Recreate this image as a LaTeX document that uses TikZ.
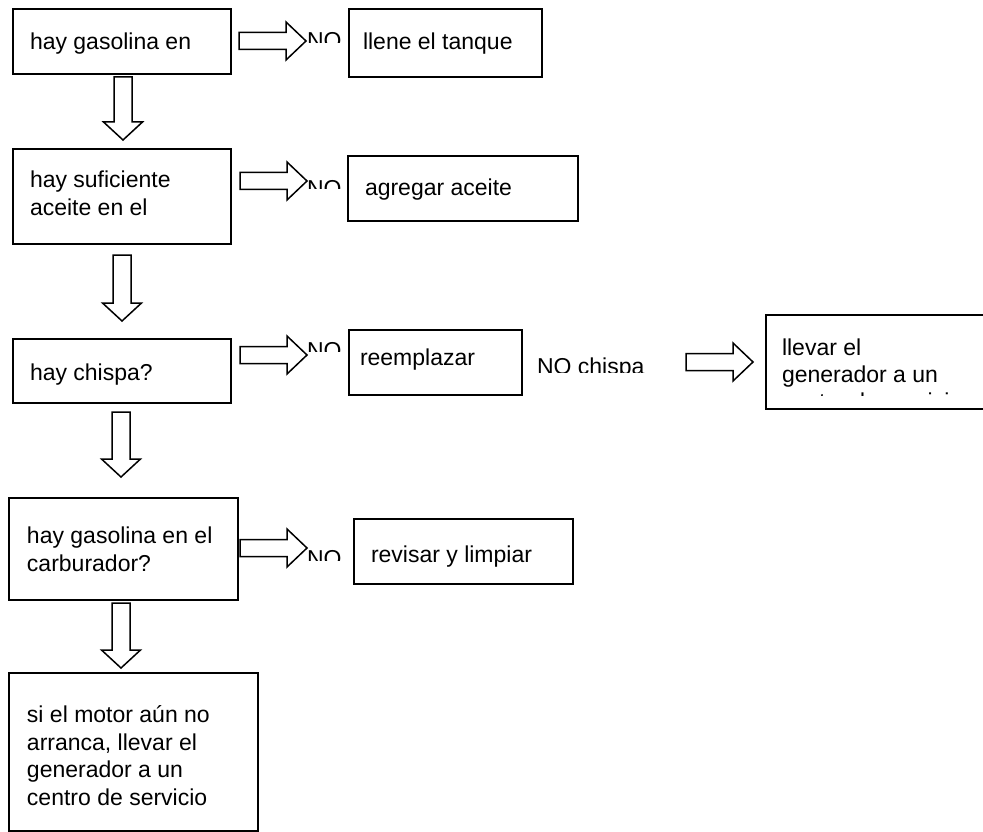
\documentclass[tikz,border=0pt]{standalone}
\usepackage{fontspec}
\setmainfont{Liberation Sans}
\begin{document}
\begin{tikzpicture}[x=1pt,y=-1pt,
  box/.style={draw=black, line width=1.8pt, rectangle, anchor=north west, inner sep=0pt},
  txt/.style={inner sep=0pt, outer sep=0pt, anchor=base west, font=\fontsize{23}{27.7}\selectfont},
  blk/.style={draw=black, line width=1.5pt, fill=white, line join=miter},
  pics/rarrow/.style={code={\draw[blk] (0,-8.5) -- (47,-8.5) -- (47,-19) -- (67,0) -- (47,19) -- (47,8.5) -- (0,8.5) -- cycle;}},
  pics/darrow/.style={code={\draw[blk] (-9,0) -- (-9,{#1-18}) -- (-19.5,{#1-18}) -- (0,#1) -- (19.5,{#1-18}) -- (9,{#1-18}) -- (9,0) -- cycle;}},
]
\useasboundingbox (0,0) rectangle (983,832);

% decision boxes (left column) and action boxes
\node[box, minimum width=218pt, minimum height=65pt]  (b1)  at (12,8) {};
\node[box, minimum width=193pt, minimum height=68pt]  (b1n) at (348,8) {};
\node[box, minimum width=218pt, minimum height=95pt]  (b2)  at (12,148) {};
\node[box, minimum width=230pt, minimum height=65pt]  (b2n) at (347,155) {};
\node[box, minimum width=218pt, minimum height=64pt]  (b3)  at (12,338) {};
\node[box, minimum width=173pt, minimum height=65pt]  (b3n) at (348,329) {};
\node[box, minimum width=230pt, minimum height=94pt]  (b3x) at (765,314) {};
\node[box, minimum width=229pt, minimum height=102pt] (b4)  at (8,497) {};
\node[box, minimum width=219pt, minimum height=65pt]  (b4n) at (353,518) {};
\node[box, minimum width=249pt, minimum height=158pt] (b5)  at (8,672) {};

% box texts
\node[txt] (t1)  at (30,50)  {hay gasolina en};
\node[txt] (t1n) at (363,50) {llene el tanque};
\node[txt] (t2a) at (30,187) {hay suficiente};
\node[txt] (t2b) at (30,215) {aceite en el};
\node[txt] (t2n) at (365,195) {agregar aceite};
\node[txt] (t3)  at (30,380) {hay chispa?};
\node[txt] (t3n) at (360,365) {reemplazar};
\node[txt] (t3a) at (782,355) {llevar el};
\node[txt] (t3b) at (782,382) {generador a un};
\begin{scope}
  \clip (770,385) rectangle (983,395);
  \node[txt] (t3c) at (782,409.5) {centro de servicio};
\end{scope}
\node[txt] (t4a) at (27,543) {hay gasolina en el};
\node[txt] (t4b) at (27,571) {carburador?};
\node[txt] (t4n) at (371,562) {revisar y limpiar};
\node[txt] (t5a) at (27,722) {si el motor aún no};
\node[txt] (t5b) at (27,750) {arranca, llevar el};
\node[txt] (t5c) at (27,777) {generador a un};
\node[txt] (t5d) at (27,805) {centro de servicio};

% labels cut off by their frames
\begin{scope}
  \clip (300,20) rectangle (346,43);
  \node[txt] (no1) at (307,48.5) {NO};
\end{scope}
\begin{scope}
  \clip (300,170) rectangle (346,189);
  \node[txt] (no2) at (307,196.5) {NO};
\end{scope}
\begin{scope}
  \clip (300,330) rectangle (346,351);
  \node[txt] (no3) at (307,358.5) {NO};
\end{scope}
\begin{scope}
  \clip (300,540) rectangle (350,560);
  \node[txt] (no4) at (307,566.5) {NO};
\end{scope}
\begin{scope}
  \clip (530,350) rectangle (680,372);
  \node[txt] (noch) at (537,374.5) {NO chispa};
\end{scope}

% block arrows to the right
\pic at (239,41)  {rarrow};
\pic at (240,181) {rarrow};
\pic at (240,355) {rarrow};
\pic at (240,548) {rarrow};
\pic at (686,362) {rarrow};

% block arrows downward
\pic at (123,77)  {darrow=63};
\pic at (122,255) {darrow=66};
\pic at (121,412) {darrow=65};
\pic at (121,603) {darrow=65};
\end{tikzpicture}
\end{document}
